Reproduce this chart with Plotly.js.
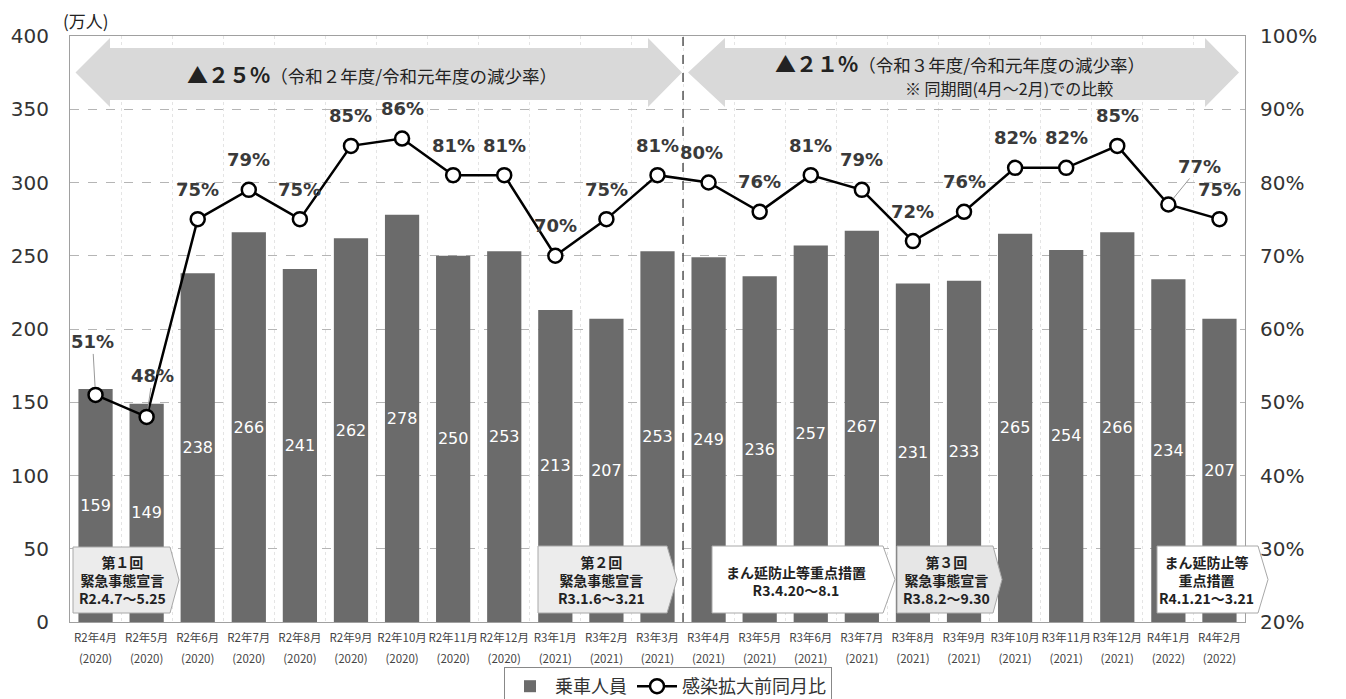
<!DOCTYPE html>
<html><head><meta charset="utf-8">
<script src="https://cdn.plot.ly/plotly-3.0.1.min.js"></script>
<style>body{margin:0;background:#fff}#chart{width:1346px;height:699px}</style>
</head><body><div id="chart"></div>
<script>
const months = ["R2年4月","R2年5月","R2年6月","R2年7月","R2年8月","R2年9月","R2年10月","R2年11月","R2年12月","R3年1月","R3年2月","R3年3月","R3年4月","R3年5月","R3年6月","R3年7月","R3年8月","R3年9月","R3年10月","R3年11月","R3年12月","R4年1月","R4年2月"];
const years = ["2020","2020","2020","2020","2020","2020","2020","2020","2020","2021","2021","2021","2021","2021","2021","2021","2021","2021","2021","2021","2021","2022","2022"];
const riders = [159,149,238,266,241,262,278,250,253,213,207,253,249,236,257,267,231,233,265,254,266,234,207];
const ratio = [0.51,0.48,0.75,0.79,0.75,0.85,0.86,0.81,0.81,0.70,0.75,0.81,0.80,0.76,0.81,0.79,0.72,0.76,0.82,0.82,0.85,0.77,0.75];
const leftTicks = [0,50,100,150,200,250,300,350,400];
const rightTicks = [0.2,0.3,0.4,0.5,0.6,0.7,0.8,0.9,1.0];
const barName = "乗車人員";
const lineName = "感染拡大前同月比";
const arrowTexts = [
  "<b><span style='font-size:21px'>▲２５%</span></b>（令和２年度/令和元年度の減少率）",
  "<b><span style='font-size:21px'>▲２１%</span></b>（令和３年度/令和元年度の減少率）",
  "※ 同期間(4月～2月)での比較"
];
const boxTexts = [
  "第１回<br>緊急事態宣言<br>R2.4.7～5.25",
  "第２回<br>緊急事態宣言<br>R3.1.6～3.21",
  "まん延防止等重点措置<br>R3.4.20～8.1",
  "第３回<br>緊急事態宣言<br>R3.8.2～9.30",
  "まん延防止等<br>重点措置<br>R4.1.21～3.21"
];

const JP = "Noto Sans CJK JP";
const NUM = "DejaVu Sans, Noto Sans CJK JP";
const L=70, R=1245, T=36, B=622, W=R-L, H=B-T;
const px = x => (x-L)/W, py = y => (B-y)/H;

const cats = months.map((m,i)=>m+"|"+i);
const tickText = months.map((m,i)=>"<span style='font-size:11.5px'>"+m+"</span><br><span style='font-size:11.5px'>("+years[i]+")</span>");

const bar = {
  type:'bar', x:cats, y:riders, name:barName,
  marker:{color:'#6b6b6b'},
  text:riders.map(String), textposition:'inside', insidetextanchor:'middle',
  textangle:0, constraintext:'none',
  textfont:{color:'#ffffff', size:16, family:NUM},
  hoverinfo:'skip'
};
const line = {
  type:'scatter', mode:'lines+markers', x:cats, y:ratio, yaxis:'y2', name:lineName,
  line:{color:'#000000', width:2.5},
  marker:{size:14, color:'#ffffff', line:{color:'#000000', width:2.5}},
  hoverinfo:'skip', cliponaxis:false
};

function pent(x0, xb, xt, y0, y1, fill){
  const ym=(y0+y1)/2;
  return {type:'path', xref:'paper', yref:'paper', layer:'above',
    path:`M${px(x0)},${py(y0)} L${px(xb)},${py(y0)} L${px(xt)},${py(ym)} L${px(xb)},${py(y1)} L${px(x0)},${py(y1)} Z`,
    fillcolor:fill, line:{color:'#a8a8a8', width:1}};
}
function darrow(xl, xlb, xrb, xr, hy0, sy0, sy1, hy1){
  const ym=(hy0+hy1)/2;
  return {type:'path', xref:'paper', yref:'paper', layer:'above',
    path:`M${px(xl)},${py(ym)} L${px(xlb)},${py(hy0)} L${px(xlb)},${py(sy0)} L${px(xrb)},${py(sy0)} L${px(xrb)},${py(hy0)} L${px(xr)},${py(ym)} L${px(xrb)},${py(hy1)} L${px(xrb)},${py(sy1)} L${px(xlb)},${py(sy1)} L${px(xlb)},${py(hy1)} Z`,
    fillcolor:'#d9d9d9', line:{width:0}};
}

const shapes = [
  {type:'line', xref:'x', yref:'paper', x0:11.5, x1:11.5, y0:0, y1:1, line:{color:'#555555', width:1.5, dash:'dash'}, layer:'above'},
  darrow(75.5,110,648,682,38,48,100,107),
  darrow(688,725,1205,1239,38,48,100,107),
  pent(73,170,179,547,613,'#ececec'),
  pent(538,667,677,546,613,'#ececec'),
  pent(712,883,895,546,613,'#ffffff'),
  pent(897,993,1002,546,613,'#e6e6e6'),
  pent(1157,1258,1268,546,613,'#ffffff')
];

const annotations = [];
const special = {0:{dx:-3,dy:-53,arrow:true}, 1:{dx:6,dy:-41,arrow:true}, 12:{dx:-7,dy:-30}, 21:{dx:31,dy:-38,arrow:true}};
ratio.forEach((v,i)=>{
  const s = special[i] || {dx:0,dy:-30};
  const a = {x:cats[i], y:v, xref:'x', yref:'y2', text:Math.round(v*100)+"%", xanchor:'center', yanchor:'middle',
    font:{family:NUM, size:18, color:'#3a3a3a', weight:'bold'}};
  if(s.arrow){ Object.assign(a,{showarrow:true, arrowhead:0, arrowwidth:1, arrowcolor:'#999999', ax:s.dx, ay:s.dy, standoff:8}); }
  else { Object.assign(a,{showarrow:false, xshift:s.dx, yshift:-s.dy}); }
  annotations.push(a);
});
function pa(x,y,text,size){
  annotations.push({xref:'paper', yref:'paper', x:px(x), y:py(y), xanchor:'center', yanchor:'middle', text:text, showarrow:false,
    font:{family:JP, size:size, color:'#222'}});
}
pa(86,20,"(万人)",17);
pa(372,74,arrowTexts[0],17.5);
pa(960,63,arrowTexts[1],17.5);
pa(1009,88,arrowTexts[2],16);
const boxPos = [[122,580],[601,580],[796,581],[946,580],[1206,580]];
boxTexts.forEach((t,i)=> pa(boxPos[i][0], boxPos[i][1], "<b>"+t+"</b>", 14));

const layout = {
  width:1346, height:699, autosize:false,
  margin:{l:L, r:1346-R, t:T, b:699-B, autoexpand:false},
  paper_bgcolor:'#ffffff', plot_bgcolor:'#ffffff',
  bargap:0.33, showlegend:true,
  legend:{orientation:'h', x:px(668), xanchor:'center', y:py(667), yanchor:'top', bordercolor:'#888', borderwidth:1,
    font:{family:JP, size:18, color:'#333'}, itemwidth:40, traceorder:'normal'},
  xaxis:{type:'category', tickmode:'array', tickvals:cats, ticktext:tickText, tickson:'boundaries', tickangle:0, automargin:false,
    showgrid:true, gridcolor:'#e4e4e4', griddash:'dot', ticks:'', showline:true, linecolor:'#a0a0a0', mirror:true,
    tickfont:{family:JP, size:16, color:'#444'}, range:[-0.5,22.5], fixedrange:true},
  yaxis:{range:[0,400], tickvals:leftTicks, showgrid:true, gridcolor:'#b5b5b5', griddash:'dash', zeroline:false, automargin:false,
    showline:true, linecolor:'#a0a0a0', mirror:true, ticks:'', ticklabelstandoff:16,
    tickfont:{family:NUM, size:20, color:'#333'}},
  yaxis2:{range:[0.2,1.0], overlaying:'y', side:'right', tickvals:rightTicks, tickformat:'.0%', showgrid:false, zeroline:false, automargin:false,
    ticks:'', ticklabelstandoff:14, tickfont:{family:NUM, size:20, color:'#333'}},
  shapes:shapes, annotations:annotations
};
Plotly.newPlot('chart',[bar,line],layout,{displayModeBar:false, staticPlot:true});
</script></body></html>
